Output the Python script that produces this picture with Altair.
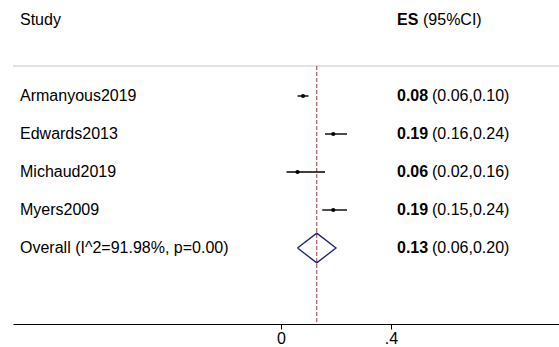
import altair as alt
import pandas as pd

# ---- data ----
studies = ["Armanyous2019", "Edwards2013", "Michaud2019", "Myers2009"]
es = [0.08, 0.19, 0.06, 0.19]
ci_lo = [0.06, 0.16, 0.02, 0.15]
ci_hi = [0.10, 0.24, 0.16, 0.24]
overall_es = 0.13
overall_lo = 0.06
overall_hi = 0.20
i2 = 91.98
p_val = 0.00
tick_values = [0, 0.4]
tick_labels = ["0", ".4"]
header_left = ["Study"]
header_bold = ["ES"]
header_rest = ["(95%CI)"]

FONT = "Liberation Sans"
FS = 16

rows = list(range(2, 2 + len(studies)))
overall_row = rows[-1] + 1
sep_row = 46 / 38       # separator under the header
bottom_row = 8          # axis row
x_min, x_max = -268 / 275, 278 / 275

df = pd.DataFrame({
    "study": studies, "es": es, "lo": ci_lo, "hi": ci_hi, "rr": rows,
})

labels = pd.DataFrame({
    "study": studies + [f"Overall (I^2={i2:.2f}%, p={p_val:.2f})"],
    "estxt": [f"{v:.2f}" for v in es] + [f"{overall_es:.2f}"],
    "citxt": [f"({a:.2f},{b:.2f})" for a, b in zip(ci_lo, ci_hi)]
              + [f"({overall_lo:.2f},{overall_hi:.2f})"],
    "rr": rows + [overall_row],
})

header = pd.DataFrame({
    "rr": [0], "h1": header_left, "h2": header_bold, "h3": header_rest,
})

dh = 0.39
diamond = pd.DataFrame({
    "dx": [overall_lo, overall_es, overall_hi, overall_es, overall_lo],
    "dy": [overall_row, overall_row - dh, overall_row, overall_row + dh, overall_row],
    "o": [0, 1, 2, 3, 4],
})

refdf = pd.DataFrame({"es": [overall_es], "r1": [sep_row], "r2": [bottom_row]})
sepdf = pd.DataFrame({"rr": [sep_row], "lo": [x_min], "hi": [x_max]})

xscale = alt.Scale(domain=[x_min, x_max], nice=False, zero=False)
yscale = alt.Scale(domain=[-20 / 38, 8], reverse=True, nice=False, zero=False)

label_expr = " : ".join(
    [f"datum.value == {v} ? '{t}'" for v, t in zip(tick_values, tick_labels)]
) + " : ''"

AX = alt.Axis(
    values=tick_values, title=None, grid=False, domainColor="#000000",
    domainWidth=1.2, tickColor="#000000", tickSize=5, labelFontSize=FS,
    labelFont=FONT, labelColor="#000000", labelPadding=1,
    labelExpr=label_expr,
)


def XQ(field):
    return alt.X(field, scale=xscale, axis=AX)


Y = alt.Y("rr:Q", scale=yscale, axis=None)

base_axis = alt.Chart(df).mark_point(opacity=0).encode(x=XQ("es:Q"), y=Y)

ref = alt.Chart(refdf).mark_rule(
    color="#9c3b3b", strokeDash=[4, 2], strokeWidth=1
).encode(
    x=XQ("es:Q"),
    y=alt.Y("r1:Q", scale=yscale, axis=None), y2="r2:Q",
)

sep = alt.Chart(sepdf).mark_rule(color="#c4c4c4", strokeWidth=1).encode(
    x=XQ("lo:Q"), x2="hi:Q", y=Y,
)

ci = alt.Chart(df).mark_rule(color="#000000", strokeWidth=1.4).encode(
    x=XQ("lo:Q"), x2="hi:Q", y=Y,
)
pts = alt.Chart(df).mark_circle(color="#000000", size=18, opacity=1).encode(
    x=XQ("es:Q"), y=Y,
)

dia = alt.Chart(diamond).mark_line(color="#1c1c7a", strokeWidth=1.3).encode(
    x=XQ("dx:Q"),
    y=alt.Y("dy:Q", scale=yscale, axis=None),
    order=alt.Order("o:Q"),
)

txt_kw = dict(font=FONT, fontSize=FS, color="#000000", align="left", baseline="middle")

study_txt = alt.Chart(labels).mark_text(**txt_kw).encode(
    x=alt.value(7), y=Y, text="study:N")
es_txt = alt.Chart(labels).mark_text(fontWeight="bold", **txt_kw).encode(
    x=alt.value(384), y=Y, text="estxt:N")
ci_txt = alt.Chart(labels).mark_text(**txt_kw).encode(
    x=alt.value(419), y=Y, text="citxt:N")

h_study = alt.Chart(header).mark_text(**txt_kw).encode(
    x=alt.value(7), y=Y, text="h1:N")
h_es = alt.Chart(header).mark_text(fontWeight="bold", **txt_kw).encode(
    x=alt.value(384), y=Y, text="h2:N")
h_ci = alt.Chart(header).mark_text(**txt_kw).encode(
    x=alt.value(410), y=Y, text="h3:N")

chart = alt.layer(
    base_axis, sep, ref, ci, pts, dia,
    study_txt, es_txt, ci_txt, h_study, h_es, h_ci,
).properties(
    width=546, height=324,
    autosize=alt.AutoSizeParams(type="none"),
    padding={"left": 13, "top": 0, "right": 0, "bottom": 23},
).configure_view(strokeWidth=0)

chart.save("out.html", embed_options={"renderer": "svg", "actions": False})
